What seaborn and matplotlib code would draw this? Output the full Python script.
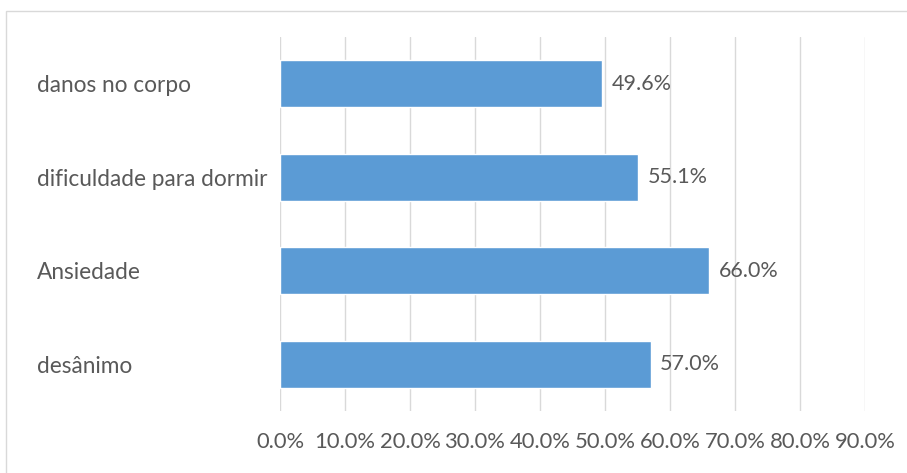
import matplotlib
matplotlib.use("Agg")
import matplotlib.pyplot as plt
import seaborn as sns
import pandas as pd
from matplotlib.patches import Rectangle
from matplotlib.ticker import FuncFormatter

categories = ["danos no corpo", "dificuldade para dormir", "Ansiedade", "desânimo"]
values = [49.6, 55.1, 66.0, 57.0]
x_ticks = [0, 10, 20, 30, 40, 50, 60, 70, 80, 90]

sns.set_theme(style="white")
plt.rcParams["font.family"] = ["Lato", "DejaVu Sans"]

df = pd.DataFrame({"cat": categories, "val": values})

fig = plt.figure(figsize=(9.07, 4.73), dpi=100)
ax = fig.add_axes([280/907, 1-411/473, (865-280)/907, (411-37)/473])

sns.barplot(data=df, y="cat", x="val", orient="h", color="#5B9BD5",
            saturation=1, width=0.5, ax=ax)

ax.set_xlim(0, 90)
ax.set_ylim(3.5, -0.5)
ax.set_xticks(x_ticks)
ax.xaxis.set_major_formatter(FuncFormatter(lambda v, p: f"{v:.1f}%"))
ax.grid(axis="x", color="#D9D9D9", linewidth=1)
ax.set_axisbelow(True)
for s in ax.spines.values():
    s.set_visible(False)
ax.set_xlabel("")
ax.set_ylabel("")
ax.tick_params(axis="x", length=0, pad=15, labelsize=15.8, labelcolor="#595959")
ax.tick_params(axis="y", length=0, pad=(280-37)*0.72, labelsize=16.3, labelcolor="#595959")
for lab in ax.get_yticklabels():
    lab.set_horizontalalignment("left")

for c in ax.containers:
    ax.bar_label(c, labels=[f"{v:.1f}%" for v in values], padding=7,
                 fontsize=15.5, color="#595959")

fig.patches.append(Rectangle((6/907, -0.1), 1.1, 1 - 11/473 + 0.1,
                             transform=fig.transFigure, fill=False,
                             edgecolor="#D9D9D9", linewidth=1))

fig.savefig("out.png", dpi=100)
